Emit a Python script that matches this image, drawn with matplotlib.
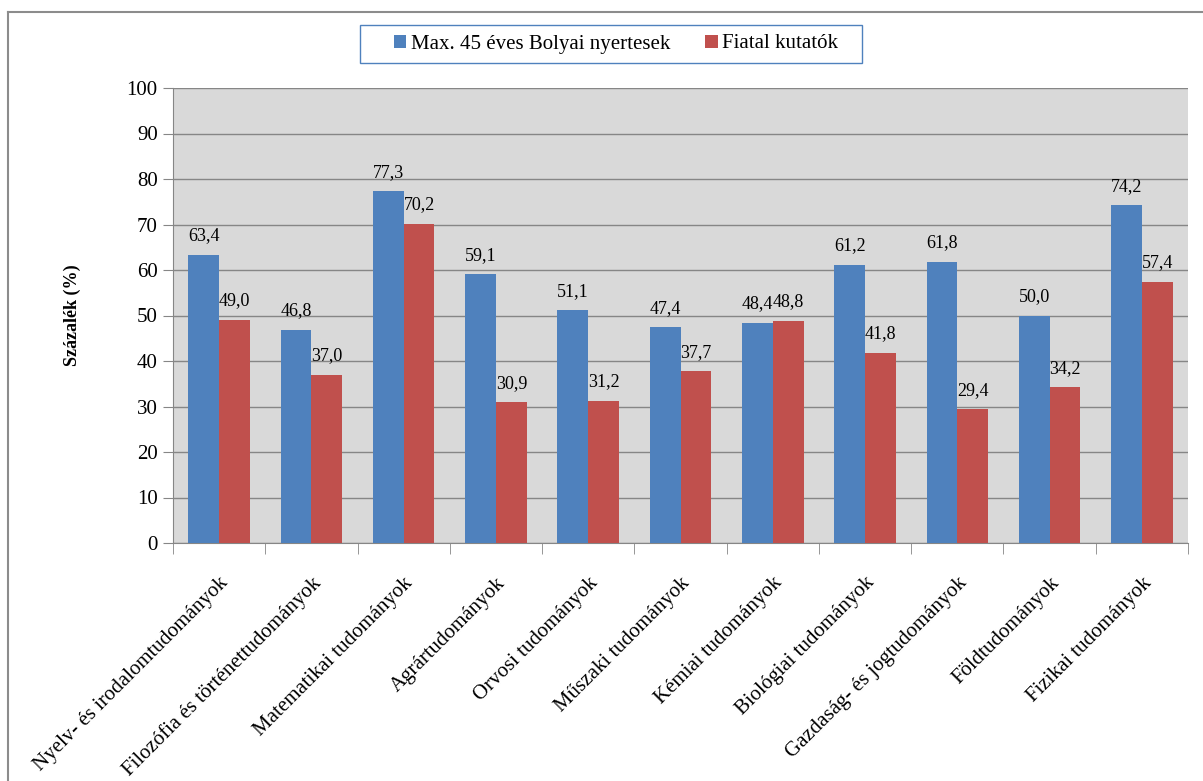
import numpy as np
import matplotlib.pyplot as plt
from matplotlib.lines import Line2D
from matplotlib.patches import Rectangle

# Adatok
kategoriak = ['Nyelv- és irodalomtudományok', 'Filozófia és történettudományok',
              'Matematikai tudományok', 'Agrártudományok', 'Orvosi tudományok',
              'Műszaki tudományok', 'Kémiai tudományok', 'Biológiai tudományok',
              'Gazdaság- és jogtudományok', 'Földtudományok', 'Fizikai tudományok']
bolyai = [63.4, 46.8, 77.3, 59.1, 51.1, 47.4, 48.4, 61.2, 61.8, 50.0, 74.2]
fiatal = [49.0, 37.0, 70.2, 30.9, 31.2, 37.7, 48.8, 41.8, 29.4, 34.2, 57.4]
sorozatok = ['Max. 45 éves Bolyai nyertesek', 'Fiatal kutatók']

plt.rcParams['font.family'] = ['Liberation Serif', 'DejaVu Serif']

W, H = 1203, 781
fig = plt.figure(figsize=(W / 100, H / 100), dpi=100)
ax = fig.add_axes([173 / W, 1 - 543 / H, (1188 - 173) / W, (543 - 88) / H])

# külső keret (bal és felső él)
fig.add_artist(Line2D([8 / W, 8 / W], [0, 1 - 12 / H], transform=fig.transFigure,
                      color='#8c8c8c', lw=1.5))
fig.add_artist(Line2D([8 / W, 1], [1 - 12 / H, 1 - 12 / H], transform=fig.transFigure,
                      color='#8c8c8c', lw=1.5))

x = np.arange(len(kategoriak))
w = 1 / 3
b1 = ax.bar(x - w / 2, bolyai, w, color='#4f81bd', label=sorozatok[0], zorder=3)
b2 = ax.bar(x + w / 2, fiatal, w, color='#c0504d', label=sorozatok[1], zorder=3)

for bars in (b1, b2):
    for r in bars:
        v = r.get_height()
        ax.annotate(f'{v:.1f}'.replace('.', ','), (r.get_x() + r.get_width() / 2, v),
                    xytext=(0, 19), textcoords='offset pixels', ha='center', va='center',
                    fontsize=13, zorder=4)

ax.set_facecolor('#d9d9d9')
ax.set_xlim(-0.5, len(kategoriak) - 0.5)
ax.set_ylim(0, 100)
ax.set_yticks(range(0, 101, 10))
ax.yaxis.grid(True, color='#868686', lw=1, zorder=0)
ax.tick_params(axis='y', length=7, color='#868686', labelsize=15, pad=4)

ax.set_xticks(x)
ax.set_xticklabels(kategoriak, rotation=45, ha='right', rotation_mode='anchor', fontsize=15)
ax.tick_params(axis='x', which='major', length=0, pad=22)
ax.set_xticks(np.arange(-0.5, len(kategoriak)), minor=True)
ax.tick_params(axis='x', which='minor', length=8, color='#868686')

for s in ['top', 'right']:
    ax.spines[s].set_visible(False)
for s in ['left', 'bottom']:
    ax.spines[s].set_color('#868686')

ax.set_ylabel('Százalék (%)', fontsize=13, fontweight='bold', labelpad=33)

# jelmagyarázat keret nélkül + külön doboz
leg = fig.legend(handles=[b1, b2], loc='center', bbox_to_anchor=(616 / W, 1 - 44 / H),
                 ncol=2, fontsize=15, frameon=False,
                 handlelength=0.6, handleheight=0.6, handletextpad=0.2,
                 columnspacing=1.7, borderpad=0, borderaxespad=0)
fig.add_artist(Rectangle((360 / W, 1 - 63 / H), 502 / W, 38 / H, transform=fig.transFigure,
                         fill=False, edgecolor='#4f81bd', lw=1))

plt.savefig('out.png', dpi=100)
